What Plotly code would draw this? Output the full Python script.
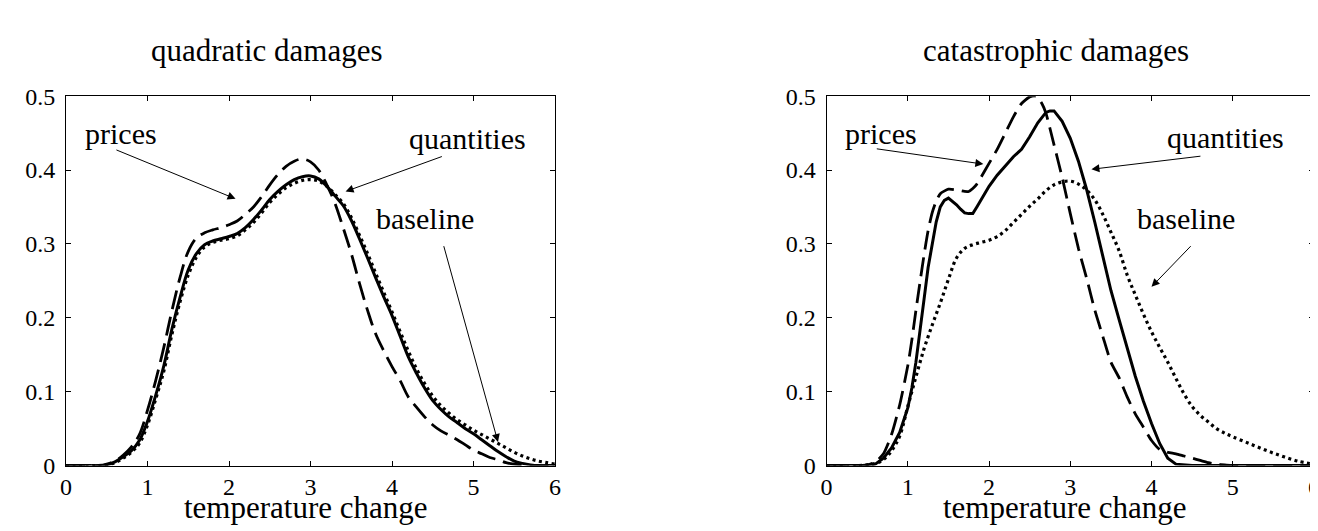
import plotly.graph_objects as go

# ---------------- data: quadratic damages (left panel) ----------------
xq = [0.0, 0.1, 0.2, 0.3, 0.4, 0.5, 0.6, 0.7, 0.8, 0.9, 1.0, 1.1, 1.2, 1.3, 1.4, 1.5,
      1.6, 1.7, 1.8, 1.9, 2.0, 2.1, 2.2, 2.3, 2.4, 2.5, 2.6, 2.7, 2.8, 2.9, 3.0, 3.1,
      3.2, 3.3, 3.4, 3.5, 3.6, 3.7, 3.8, 3.9, 4.0, 4.1, 4.2, 4.3, 4.4, 4.5, 4.6, 4.7,
      4.8, 4.9, 5.0, 5.1, 5.2, 5.3, 5.4, 5.5, 5.6, 5.7, 5.8, 5.9, 6.0]
q_quantities = [0, 0, 0, 0, 0, 0.001, 0.005, 0.012, 0.020, 0.034, 0.060, 0.095, 0.135,
                0.185, 0.228, 0.265, 0.287, 0.299, 0.304, 0.307, 0.310, 0.314, 0.322,
                0.333, 0.346, 0.360, 0.371, 0.380, 0.387, 0.391, 0.392, 0.388, 0.378,
                0.365, 0.352, 0.332, 0.307, 0.281, 0.254, 0.228, 0.203, 0.175, 0.147,
                0.125, 0.105, 0.088, 0.076, 0.066, 0.058, 0.050, 0.043, 0.035, 0.027,
                0.019, 0.012, 0.006, 0.003, 0.001, 0, 0, 0]
q_prices = [0, 0, 0, 0, 0, 0.002, 0.006, 0.014, 0.025, 0.042, 0.075, 0.115, 0.160,
            0.210, 0.255, 0.290, 0.308, 0.315, 0.319, 0.322, 0.326, 0.331, 0.340,
            0.350, 0.364, 0.380, 0.394, 0.405, 0.412, 0.415, 0.411, 0.400, 0.380,
            0.355, 0.322, 0.287, 0.247, 0.210, 0.178, 0.155, 0.134, 0.115, 0.093,
            0.079, 0.066, 0.055, 0.047, 0.041, 0.035, 0.028, 0.021, 0.016, 0.011,
            0.008, 0.004, 0.002, 0.001, 0, 0, 0, 0]
q_baseline = [0, 0, 0, 0, 0, 0.001, 0.004, 0.010, 0.018, 0.030, 0.055, 0.090, 0.128,
              0.178, 0.222, 0.258, 0.282, 0.296, 0.302, 0.305, 0.307, 0.311, 0.319,
              0.329, 0.342, 0.356, 0.367, 0.376, 0.382, 0.386, 0.387, 0.385, 0.378,
              0.367, 0.355, 0.336, 0.312, 0.287, 0.260, 0.234, 0.208, 0.181, 0.155,
              0.131, 0.111, 0.094, 0.081, 0.071, 0.062, 0.055, 0.048, 0.042, 0.036,
              0.030, 0.024, 0.018, 0.013, 0.009, 0.006, 0.004, 0.002]

# ---------------- data: catastrophic damages (right panel) ----------------
xc_quantities = [0.0, 0.4, 0.5, 0.6, 0.7, 0.8, 0.9, 1.0, 1.05, 1.1, 1.15, 1.2, 1.25, 1.3,
                 1.35, 1.4, 1.45, 1.5, 1.55, 1.6, 1.65, 1.7, 1.75, 1.8, 1.85, 1.9, 2.0,
                 2.1, 2.2, 2.3, 2.4, 2.5, 2.6, 2.7, 2.75, 2.8, 2.9, 3.0, 3.1, 3.2, 3.3,
                 3.4, 3.5, 3.6, 3.7, 3.8, 3.9, 4.0, 4.1, 4.2, 4.3, 4.4, 4.5, 5.0, 6.0]
c_quantities = [0, 0, 0, 0.002, 0.010, 0.024, 0.045, 0.078, 0.105, 0.140, 0.180, 0.225,
                0.268, 0.300, 0.330, 0.350, 0.359, 0.362, 0.358, 0.353, 0.347, 0.342,
                0.341, 0.341, 0.350, 0.360, 0.378, 0.393, 0.406, 0.418, 0.428, 0.445,
                0.464, 0.478, 0.480, 0.480, 0.466, 0.443, 0.412, 0.374, 0.330, 0.283,
                0.237, 0.198, 0.159, 0.121, 0.087, 0.057, 0.030, 0.010, 0.002, 0.001,
                0, 0, 0]
xc_prices = [0.0, 0.5, 0.6, 0.7, 0.8, 0.9, 1.0, 1.05, 1.1, 1.15, 1.2, 1.25, 1.3, 1.35,
             1.4, 1.5, 1.6, 1.7, 1.75, 1.8, 1.85, 1.9, 2.0, 2.1, 2.2, 2.3, 2.4, 2.5,
             2.58, 2.65, 2.7, 2.8, 2.9, 3.0, 3.1, 3.2, 3.3, 3.4, 3.5, 3.6, 3.7, 3.8,
             3.9, 4.0, 4.1, 4.2, 4.3, 4.4, 4.5, 4.6, 4.7, 4.8, 4.9, 5.0, 6.0]
c_prices = [0, 0.001, 0.005, 0.016, 0.042, 0.082, 0.135, 0.170, 0.210, 0.248, 0.285,
            0.318, 0.342, 0.358, 0.368, 0.374, 0.373, 0.371, 0.371, 0.375, 0.381,
            0.390, 0.409, 0.428, 0.450, 0.472, 0.490, 0.499, 0.500, 0.490, 0.477,
            0.434, 0.390, 0.341, 0.294, 0.254, 0.211, 0.175, 0.140, 0.119, 0.093,
            0.070, 0.052, 0.034, 0.022, 0.018, 0.016, 0.013, 0.010, 0.007, 0.004,
            0.002, 0.001, 0, 0]
xc_baseline = [0.0, 0.4, 0.5, 0.6, 0.7, 0.8, 0.9, 1.0, 1.1, 1.2, 1.3, 1.4, 1.5, 1.6,
               1.7, 1.8, 1.9, 2.0, 2.1, 2.2, 2.3, 2.4, 2.5, 2.6, 2.7, 2.8, 2.9, 3.0,
               3.1, 3.2, 3.3, 3.4, 3.5, 3.6, 3.7, 3.8, 3.9, 4.0, 4.1, 4.2, 4.3, 4.4,
               4.5, 4.6, 4.7, 4.8, 4.9, 5.0, 5.2, 5.4, 5.6, 5.8, 6.0]
c_baseline = [0, 0, 0.001, 0.003, 0.008, 0.020, 0.040, 0.080, 0.120, 0.158, 0.190,
              0.220, 0.252, 0.281, 0.294, 0.299, 0.302, 0.305, 0.310, 0.318, 0.329,
              0.340, 0.351, 0.361, 0.372, 0.380, 0.384, 0.385, 0.381, 0.373, 0.360,
              0.340, 0.316, 0.291, 0.258, 0.231, 0.205, 0.181, 0.160, 0.140, 0.118,
              0.097, 0.080, 0.068, 0.059, 0.050, 0.044, 0.039, 0.030, 0.021, 0.013,
              0.006, 0.002]

panel_titles = ["quadratic damages", "catastrophic damages"]
x_label = "temperature change"
x_ticks = [0, 1, 2, 3, 4, 5, 6]
y_ticks = [0, 0.1, 0.2, 0.3, 0.4, 0.5]

FONT = "Liberation Serif"
W, H = 1318, 531

fig = go.Figure()

solid = dict(color="black", width=3)
dashed = dict(color="black", width=2.8, dash="19px,8px")
dotted = dict(color="black", width=3.2, dash="3px,3.5px")

# left panel
fig.add_trace(go.Scatter(x=xq, y=q_baseline, mode="lines", line=dotted, xaxis="x", yaxis="y", line_shape="spline"))
fig.add_trace(go.Scatter(x=xq, y=q_quantities, mode="lines", line=solid, xaxis="x", yaxis="y", line_shape="spline"))
fig.add_trace(go.Scatter(x=xq, y=q_prices, mode="lines", line=dashed, xaxis="x", yaxis="y", line_shape="spline"))
# right panel
fig.add_trace(go.Scatter(x=xc_baseline, y=c_baseline, mode="lines", line=dotted, xaxis="x2", yaxis="y2", line_shape="spline"))
fig.add_trace(go.Scatter(x=xc_quantities, y=c_quantities, mode="lines", line=solid, xaxis="x2", yaxis="y2"))
fig.add_trace(go.Scatter(x=xc_prices, y=c_prices, mode="lines", line=dashed, xaxis="x2", yaxis="y2", line_shape="spline", line_smoothing=0.6))

ydom = [1 - 467.5 / H, 1 - 79 / H]
axis_common = dict(
    showgrid=False, zeroline=False, showline=True, linecolor="black", linewidth=1,
    mirror="ticks", ticks="inside", ticklen=5, tickwidth=1, tickcolor="black",
    tickfont=dict(family=FONT, size=24, color="black"),
)

fig.update_layout(
    width=W, height=H, margin=dict(l=0, r=0, t=0, b=0),
    paper_bgcolor="white", plot_bgcolor="white", showlegend=False,
    xaxis=dict(domain=[52.5 / W, 546 / W], range=[0, 6], tickvals=x_ticks,
               anchor="y", ticklabelstandoff=0, **axis_common),
    yaxis=dict(domain=ydom, range=[0, 0.5], tickvals=y_ticks, anchor="x",
               ticklabelstandoff=5, **axis_common),
    xaxis2=dict(domain=[820 / W, 1312 / W], range=[0, 6], tickvals=x_ticks,
                anchor="y2", ticklabelstandoff=0, **axis_common),
    yaxis2=dict(domain=ydom, range=[0, 0.5], tickvals=y_ticks, anchor="x2",
                ticklabelstandoff=5, **axis_common),
)

ann = []
tfont = dict(family=FONT, size=31, color="black")
afont = dict(family=FONT, size=30, color="black")

# titles and x labels (positioned in data x-units of each panel)
for i, (xr, yr) in enumerate([("x", "y"), ("x2", "y2")]):
    ann.append(dict(text=panel_titles[i], xref=xr, yref="paper", x=[2.46, 2.83][i],
                    y=1 - 31 / H, xanchor="center", yanchor="middle",
                    showarrow=False, font=tfont))
    ann.append(dict(text=x_label, xref=xr, yref="paper", x=2.94,
                    y=0, xanchor="center", yanchor="bottom",
                    showarrow=False, font=tfont, borderpad=0))

# curve labels: (text, text_x, text_y, tail_x, tail_y, head_x, head_y)
labels_left = [
    ("prices", 0.67, 0.45, 0.60, 0.428, 2.08, 0.361),
    ("quantities", 4.92, 0.443, 4.63, 0.419, 3.43, 0.371),
    ("baseline", 4.40, 0.335, 4.63, 0.299, 5.30, 0.032),
]
labels_right = [
    ("prices", 0.675, 0.45, 0.60, 0.429, 1.93, 0.408),
    ("quantities", 4.91, 0.444, 4.62, 0.419, 3.26, 0.401),
    ("baseline", 4.42, 0.335, 4.50, 0.299, 4.00, 0.242),
]
for (xr, yr), labels in [(("x", "y"), labels_left), (("x2", "y2"), labels_right)]:
    for text, tx, ty, ax_, ay_, hx, hy in labels:
        ann.append(dict(text=text, xref=xr, yref=yr, x=tx, y=ty, xanchor="center",
                        yanchor="middle", showarrow=False, font=afont))
        ann.append(dict(text="", xref=xr, yref=yr, x=hx, y=hy, axref=xr, ayref=yr,
                        ax=ax_, ay=ay_, showarrow=True, arrowhead=2, arrowsize=1.6,
                        arrowwidth=1, arrowcolor="black"))

fig.update_layout(annotations=ann)
fig.write_html("out.html")
